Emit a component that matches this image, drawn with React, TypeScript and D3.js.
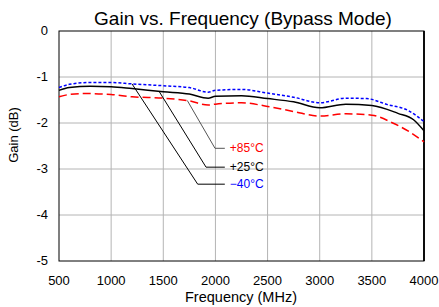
import React, { useEffect, useRef } from 'react';
import * as d3 from 'd3';

// Curve data (MHz, dB)
const freqM40 = [500, 600, 800, 1000, 1200, 1500, 1750, 1930, 2000, 2250, 2500, 2750, 3000, 3250, 3450, 3650, 3850, 4000];
const gainM40 = [-1.23, -1.16, -1.12, -1.12, -1.15, -1.19, -1.23, -1.33, -1.29, -1.27, -1.35, -1.44, -1.56, -1.46, -1.47, -1.6, -1.73, -1.97];

const freqP25 = [500, 600, 800, 1000, 1200, 1500, 1750, 1930, 2000, 2250, 2500, 2750, 3000, 3250, 3500, 3750, 3900, 4000];
const gainP25 = [-1.29, -1.23, -1.2, -1.21, -1.25, -1.32, -1.37, -1.46, -1.42, -1.41, -1.47, -1.54, -1.67, -1.59, -1.62, -1.79, -1.93, -2.17];

const freqP85 = [500, 600, 750, 1000, 1200, 1500, 1750, 1930, 2000, 2250, 2500, 2750, 3000, 3250, 3500, 3700, 3860, 4000];
const gainP85 = [-1.43, -1.38, -1.36, -1.38, -1.43, -1.46, -1.52, -1.61, -1.59, -1.56, -1.64, -1.75, -1.85, -1.8, -1.83, -2.0, -2.19, -2.41];

const xTicks = [500, 1000, 1500, 2000, 2500, 3000, 3500, 4000];
const yTicks = [0, -1, -2, -3, -4, -5];

// callouts: label, colour, curve point, elbow point, label point (data units)
const callouts = [
  { label: '+85°C', color: '#ff0000', lead: '#555', target: [1730, -1.51], elbow: [1996, -2.55], end: [2090, -2.55] },
  { label: '+25°C', color: '#000000', lead: '#000', target: [1462, -1.32], elbow: [1910, -2.96], end: [2090, -2.96] },
  { label: '\u221240°C', color: '#0000ff', lead: '#000', target: [1200, -1.15], elbow: [1830, -3.33], end: [2090, -3.33] },
];

const W = 439;
const H = 307;
const margin = { top: 31, right: 15, bottom: 46, left: 59 };
const font = 'Arial, "Liberation Sans", sans-serif';

export default function App() {
  const ref = useRef<SVGSVGElement>(null);

  useEffect(() => {
    if (!ref.current) return;
    const svg = d3.select(ref.current);
    svg.selectAll('*').remove();

    const x = d3.scaleLinear().domain([500, 4000]).range([margin.left, W - margin.right]);
    const y = d3.scaleLinear().domain([-5, 0]).range([H - margin.bottom, margin.top]);

    // grid
    svg.append('g')
      .selectAll('line')
      .data(xTicks.slice(1, -1))
      .join('line')
      .attr('x1', d => x(d)).attr('x2', d => x(d))
      .attr('y1', y(0)).attr('y2', y(-5))
      .attr('stroke', '#b4b4b4').attr('stroke-width', 1);
    svg.append('g')
      .selectAll('line')
      .data(yTicks.slice(1, -1))
      .join('line')
      .attr('x1', x(500)).attr('x2', x(4000))
      .attr('y1', d => y(d)).attr('y2', d => y(d))
      .attr('stroke', '#b4b4b4').attr('stroke-width', 1);

    // frame
    svg.append('rect')
      .attr('x', x(500)).attr('y', y(0))
      .attr('width', x(4000) - x(500)).attr('height', y(-5) - y(0))
      .attr('fill', 'none').attr('stroke', '#000').attr('stroke-width', 1);
    svg.append('line')
      .attr('x1', x(4000)).attr('x2', x(4000)).attr('y1', y(0)).attr('y2', y(-5))
      .attr('stroke', '#000').attr('stroke-width', 1.8);

    // tick labels
    svg.append('g')
      .selectAll('text')
      .data(xTicks)
      .join('text')
      .attr('x', d => x(d)).attr('y', H - margin.bottom + 24)
      .attr('text-anchor', 'middle')
      .attr('font-family', font).attr('font-size', 13)
      .text(d => d);
    svg.append('g')
      .selectAll('text')
      .data(yTicks)
      .join('text')
      .attr('x', margin.left - 11).attr('y', d => y(d) + 4)
      .attr('text-anchor', 'end')
      .attr('font-family', font).attr('font-size', 13)
      .text(d => String(d));

    // curves
    const line = d3.line<[number, number]>()
      .x(d => x(d[0]))
      .y(d => y(d[1]))
      .curve(d3.curveMonotoneX);

    const series = [
      { f: freqP85, g: gainP85, color: '#ff0000', dash: '8,4' },
      { f: freqP25, g: gainP25, color: '#000000', dash: null },
      { f: freqM40, g: gainM40, color: '#0000ff', dash: '3,2' },
    ];
    series.forEach(s => {
      const pts = s.f.map((f, i) => [f, s.g[i]] as [number, number]);
      svg.append('path')
        .datum(pts)
        .attr('fill', 'none')
        .attr('stroke', s.color)
        .attr('stroke-width', 1.5)
        .attr('stroke-dasharray', s.dash)
        .attr('d', line);
    });

    // callouts
    callouts.forEach(c => {
      const pts = [c.target, c.elbow, c.end].map(p => [x(p[0]), y(p[1])] as [number, number]);
      svg.append('path')
        .attr('d', d3.line()(pts))
        .attr('fill', 'none')
        .attr('stroke', c.lead)
        .attr('stroke-width', 1);
      svg.append('text')
        .attr('x', x(c.end[0]) + 5).attr('y', y(c.end[1]) + 4)
        .attr('font-family', font).attr('font-size', 12)
        .attr('fill', c.color)
        .text(c.label);
    });

    // titles
    svg.append('text')
      .attr('x', 243).attr('y', 25)
      .attr('text-anchor', 'middle')
      .attr('font-family', font).attr('font-size', 19)
      .text('Gain vs. Frequency (Bypass Mode)');
    svg.append('text')
      .attr('x', 241).attr('y', 302)
      .attr('text-anchor', 'middle')
      .attr('font-family', font).attr('font-size', 14.5)
      .text('Frequency (MHz)');
    svg.append('text')
      .attr('transform', `translate(18,${(margin.top + H - margin.bottom) / 2 - 11}) rotate(-90)`)
      .attr('text-anchor', 'middle')
      .attr('font-family', font).attr('font-size', 13)
      .text('Gain (dB)');
  }, []);

  return (
    <svg
      ref={ref}
      width={W}
      height={H}
      style={{ position: 'absolute', left: 0, top: 0, background: '#fff' }}
    />
  );
}
